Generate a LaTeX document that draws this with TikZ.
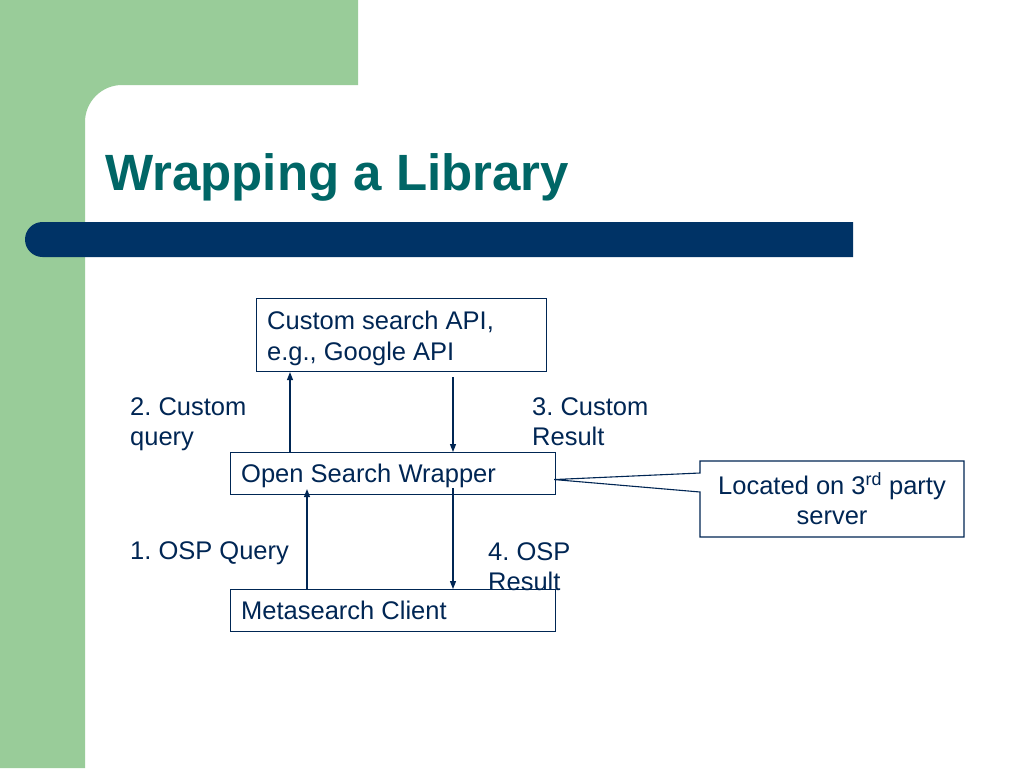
\documentclass[tikz,border=0pt]{standalone}
\usepackage{fontspec}
\setmainfont{Liberation Sans}
\usetikzlibrary{arrows.meta}
\definecolor{sgreen}{RGB}{153,204,153}
\definecolor{sbar}{RGB}{0,51,102}
\definecolor{stitle}{RGB}{0,102,102}
\definecolor{snavy}{RGB}{0,38,84}
\frenchspacing
\begin{document}
\begin{tikzpicture}[x=1pt,y=-1pt,
 boxshape/.style={draw=snavy,line width=1.1pt,fill=white,rectangle,inner sep=0pt,anchor=north west},
 txt/.style={text=snavy,inner sep=0pt,font=\fontsize{25.5}{30.5}\selectfont},
 arr/.style={draw=snavy,line width=1.2pt,-{Triangle[width=6pt,length=8pt]}}]
\useasboundingbox (0,0) rectangle (1024,768);
\fill[white] (0,0) rectangle (1024,768);
\fill[sgreen] (0,0) -- (358,0) -- (358,85) -- (122,85) .. controls (101.6,85) and (85,101.6) .. (85,122) -- (85,768) -- (0,768) -- cycle;
\fill[sbar] (853,222) [rounded corners=17.5pt] -- (25,222) -- (25,257) [sharp corners] -- (853,257) -- cycle;

\node[anchor=base west, text=stitle, inner sep=0pt, font=\fontsize{51}{58}\selectfont\bfseries] (title) at (105,190) {Wrapping a Library};

\node[boxshape,minimum width=290pt,minimum height=73pt] (api) at (256,298) {};
\node[boxshape,minimum width=325pt,minimum height=42pt] (osw) at (230,452) {};
\node[boxshape,minimum width=325pt,minimum height=42pt] (msc) at (230,589) {};

\node[txt,anchor=north west,align=left] (apit) at (267,311) {Custom search API,\\e.g., Google API};
\node[txt,anchor=base west] (oswt) at (241,482) {Open Search Wrapper};
\node[txt,anchor=base west] (msct) at (241,619) {Metasearch Client};

\coordinate (tip) at ([xshift=-2pt,yshift=-6pt]osw.east);
\draw[draw=snavy,line width=1.1pt,fill=white] (700,461) -- (964,461) -- (964,537) -- (700,537) -- (700,492) -- (tip) -- (700,473) -- cycle;
\node[txt,anchor=north,align=center] (loc) at (832,472) {Located on 3\textsuperscript{rd} party\\server};

\coordinate (a1s) at ([xshift=60pt]osw.north west);
\draw[arr] (a1s) -- (a1s |- api.south);
\coordinate (a2s) at ([xshift=197pt,yshift=-5pt]api.south west);
\draw[arr] (a2s) -- (a2s |- osw.north);
\coordinate (a3s) at ([xshift=77pt]msc.north west);
\coordinate (a3e) at ([yshift=6pt]osw.south west);
\draw[arr] (a3s) -- (a3s |- a3e);
\coordinate (a4s) at ([xshift=223pt,yshift=7pt]osw.south west);
\draw[arr] (a4s) -- (a4s |- msc.north);

\node[txt,anchor=north west,align=left] (l2) at (130,397) {2. Custom\\query};
\node[txt,anchor=north west,align=left] (l3) at (532,397) {3. Custom\\Result};
\node[txt,anchor=base west] (l1) at (130,559) {1. OSP Query};
\node[txt,anchor=north west,align=left] (l4) at (488,542) {4. OSP\\Result};
\end{tikzpicture}
\end{document}
